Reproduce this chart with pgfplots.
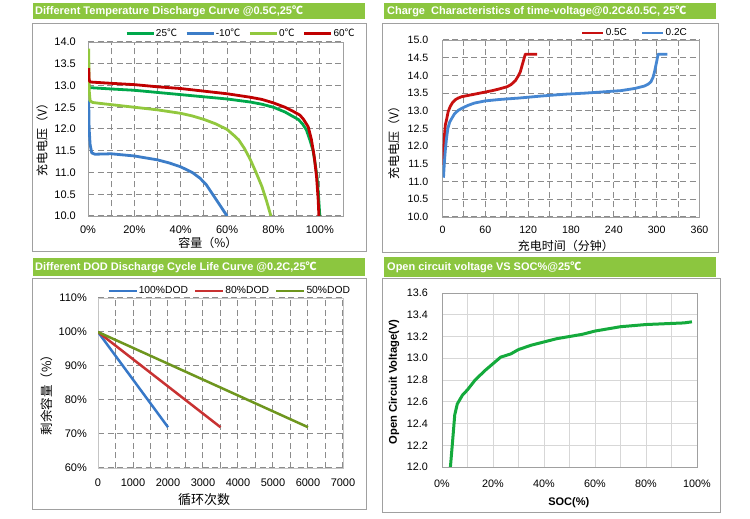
\documentclass[border=0pt]{standalone}
\usepackage{fontspec}
\setmainfont{Liberation Sans}
\newfontfamily\cjk{Noto Sans CJK SC}
\usepackage{pgfplots}
\pgfplotsset{compat=1.18}

\definecolor{titlegreen}{RGB}{140,198,63}
\definecolor{framegray}{RGB}{160,160,160}
\definecolor{gridgray}{RGB}{140,140,140}
\definecolor{boxgray}{RGB}{160,160,160}
\definecolor{lightgrid}{RGB}{215,215,215}
\definecolor{cGreen}{RGB}{0,168,75}
\definecolor{cBlue}{RGB}{60,125,200}
\definecolor{cLight}{RGB}{146,200,62}
\definecolor{cRed}{RGB}{192,0,0}
\definecolor{cRedB}{RGB}{200,16,16}
\definecolor{cBlueB}{RGB}{70,135,210}
\definecolor{dBlue}{RGB}{55,120,200}
\definecolor{dRed}{RGB}{200,50,50}
\definecolor{dOlive}{RGB}{110,150,30}
\definecolor{ocvGreen}{RGB}{20,170,60}

\pgfplotsset{
  panel/.style={
    scale only axis, anchor=south west,
    axis line style={draw=boxgray, line width=0.8pt},
    grid=major,
    major grid style={draw=gridgray, line width=1pt, dash pattern=on 6pt off 3.5pt},
    major tick length=0pt,
    tick style={draw=none},
    /pgf/number format/assume math mode=true,
    ticklabel style={font=\fontsize{11}{13}\selectfont, inner sep=0pt},
    legend style={draw=none, fill=none, font=\fontsize{10}{12}\selectfont,
      inner sep=0pt, nodes={inner sep=1pt}},
    legend cell align=left,
    every axis plot/.append style={line width=2.8pt, line join=round, no markers},
  },
}

\begin{document}
\begin{tikzpicture}
\fill[white] (0pt,0pt) rectangle (750pt,519pt);
\path[use as bounding box] (0pt,0pt) rectangle (750pt,519pt);

% frames
\draw[framegray, line width=0.8pt] (32pt,268pt) rectangle (366pt,496pt);
\draw[framegray, line width=0.8pt] (382pt,267pt) rectangle (718pt,496pt);
\draw[framegray, line width=0.8pt] (32pt,10pt) rectangle (366pt,241pt);
\draw[framegray, line width=0.8pt] (382pt,7pt) rectangle (720pt,241pt);

% title bars
\fill[titlegreen] (33pt,500pt) rectangle (365pt,516pt);
\fill[titlegreen] (384pt,500pt) rectangle (716pt,516pt);
\fill[titlegreen] (33pt,243pt) rectangle (365pt,261pt);
\fill[titlegreen] (384pt,242pt) rectangle (716pt,262pt);
\begin{scope}[every node/.style={anchor=west, text=white, inner sep=0pt, font=\bfseries\fontsize{11}{13}\selectfont}]
\node at (35pt,508pt) {Different Temperature Discharge Curve @0.5C,25{\cjk ℃}};
\node at (387pt,508pt) {Charge\ \ Characteristics of time-voltage@0.2C\&0.5C, 25{\cjk ℃}};
\node at (35pt,252pt) {Different DOD Discharge Cycle Life Curve @0.2C,25{\cjk ℃}};
\node at (387pt,252pt) {Open circuit voltage VS SOC\%@25{\cjk ℃}};
\end{scope}

% ---------------- Panel 1 ----------------
\begin{axis}[panel, at={(88pt,303pt)}, width=255pt, height=174pt,
  xmin=0, xmax=110, ymin=10, ymax=14,
  xtick={0,10,...,110}, xticklabels={0\%,,20\%,,40\%,,60\%,,80\%,,100\%,},
  ytick={10,10.5,...,14},
  yticklabel style={anchor=east, xshift=-12pt, /pgf/number format/.cd, fixed, fixed zerofill, precision=1},
  xticklabel style={anchor=north, yshift=-10pt},
  every axis x label/.style={at={(axis description cs:0.47,-0.155)}, anchor=center, font=\cjk\fontsize{12}{14}\selectfont},
  every axis y label/.style={at={(axis description cs:-0.18,0.454)}, anchor=center, rotate=90, font=\cjk\fontsize{12}{14}\selectfont},
  xlabel={容量（\%）}, ylabel={充电电压（V）},
  legend columns=4,
  legend style={at={(axis description cs:0.145,1.048)}, anchor=west, /tikz/every even column/.append style={column sep=7pt}},
  legend image code/.code={\draw[#1, line width=2.8pt] (0pt,0pt) -- (27pt,0pt);},
]
\addplot[cGreen] coordinates {(0.3,13.05) (0.6,12.97) (1,12.95) (10,12.92) (20,12.89) (30,12.84) (40,12.79) (50,12.74) (60,12.69) (70,12.62) (75,12.57) (80,12.5) (85,12.39) (88,12.3) (90.7,12.22) (92.5,12.12) (94.2,11.98) (95.7,11.75) (97.1,11.5) (98,11.2) (98.8,10.9) (99.4,10.5) (100,10.0)};
\addlegendentry{25{\cjk ℃}}
\addplot[cBlue] coordinates {(0.3,12.65) (0.5,12.0) (0.9,11.65) (1.6,11.45) (3,11.42) (10,11.43) (20,11.38) (30,11.29) (35,11.22) (40,11.13) (45,11.0) (48.3,10.87) (51,10.72) (54,10.48) (56,10.32) (58,10.16) (60,10.0)};
\addlegendentry{-10{\cjk ℃}}
\addplot[cLight] coordinates {(0.3,13.85) (0.5,12.9) (0.9,12.65) (2,12.61) (5,12.59) (10,12.56) (20,12.5) (30,12.44) (40,12.36) (45,12.3) (50,12.22) (55,12.12) (60,11.99) (63,11.85) (65,11.75) (67.5,11.55) (70,11.3) (72.5,11.0) (75,10.68) (77,10.35) (78.9,10.0)};
\addlegendentry{0{\cjk ℃}}
\addplot[cRed] coordinates {(0.3,13.4) (0.5,13.12) (1,13.08) (10,13.05) (20,13.02) (30,12.97) (40,12.93) (50,12.87) (60,12.81) (70,12.73) (75,12.68) (80,12.6) (85,12.5) (88,12.42) (91.4,12.32) (93,12.22) (95,12.05) (96.4,11.75) (97.6,11.36) (98.6,10.9) (99.3,10.37) (99.6,10.0)};
\addlegendentry{60{\cjk ℃}}
\end{axis}

% ---------------- Panel 2 ----------------
\begin{axis}[panel, at={(442.5pt,302pt)}, width=257pt, height=177pt,
  xmin=0, xmax=360, ymin=10, ymax=15,
  xtick={0,30,...,360}, xticklabels={0,,60,,120,,180,,240,,300,,360},
  ytick={10,10.5,...,15},
  yticklabel style={anchor=east, xshift=-14pt, /pgf/number format/.cd, fixed, fixed zerofill, precision=1},
  xticklabel style={anchor=north, yshift=-9pt},
  ticklabel style={font=\fontsize{10.6}{13}\selectfont},
  every axis x label/.style={at={(axis description cs:0.48,-0.164)}, anchor=center, font=\cjk\fontsize{12}{14}\selectfont},
  every axis y label/.style={at={(axis description cs:-0.189,0.435)}, anchor=center, rotate=90, font=\cjk\fontsize{12}{14}\selectfont},
  xlabel={充电时间（分钟）}, ylabel={充电电压（V）},
  legend columns=2,
  legend style={at={(axis description cs:0.538,1.04)}, anchor=west, /tikz/every even column/.append style={column sep=13pt}},
  legend image code/.code={\draw[#1, line width=2.8pt] (0pt,0pt) -- (21pt,0pt);},
]
\addplot[cRedB] coordinates {(1.4,11.47) (2,11.9) (2.8,12.32) (4,12.6) (6.1,12.79) (8,12.98) (10.8,13.12) (14,13.23) (17.8,13.31) (22,13.36) (27.2,13.40) (40,13.45) (50,13.49) (60,13.53) (70,13.57) (80,13.62) (90.5,13.68) (96,13.74) (102,13.85) (106,13.98) (109,14.1) (112.3,14.34) (116,14.6) (132.6,14.6)};
\addlegendentry{0.5C}
\addplot[cBlueB] coordinates {(1.4,11.11) (2.5,11.5) (3.75,11.84) (5.5,12.2) (7.5,12.5) (10,12.68) (13.1,12.79) (17,12.92) (22.5,13.02) (30,13.1) (36.6,13.16) (45,13.22) (60,13.28) (80,13.32) (107,13.36) (140,13.42) (172.5,13.47) (200,13.5) (222,13.53) (250,13.57) (269,13.63) (283,13.70) (288,13.75) (292,13.82) (295,13.95) (297,14.1) (300,14.39) (302,14.6) (315,14.6)};
\addlegendentry{0.2C}
\end{axis}

% ---------------- Panel 3 ----------------
\begin{axis}[panel, at={(98pt,51pt)}, width=245pt, height=170pt,
  axis line style={draw=lightgrid!80!gray, line width=0.8pt},
  xmin=0, xmax=7000, ymin=60, ymax=110,
  xtick={0,500,...,7000}, xticklabels={0,,1000,,2000,,3000,,4000,,5000,,6000,,7000},
  ytick={60,70,...,110}, yticklabels={60\%,70\%,80\%,90\%,100\%,110\%},
  yticklabel style={anchor=east, xshift=-11pt},
  xticklabel style={anchor=north, yshift=-11pt},
  every axis x label/.style={at={(axis description cs:0.433,-0.188)}, anchor=center, font=\cjk\fontsize{13}{15}\selectfont},
  every axis y label/.style={at={(axis description cs:-0.209,0.447)}, anchor=center, rotate=90, font=\cjk\fontsize{12.5}{14}\selectfont},
  xlabel={循环次数}, ylabel={剩余容量（\%）},
  legend columns=3,
  legend style={at={(axis description cs:0.037,1.041)}, anchor=west, font=\fontsize{10.3}{12}\selectfont, /tikz/every even column/.append style={column sep=5pt}},
  legend image code/.code={\draw[#1, line width=2.5pt] (0pt,0pt) -- (28pt,0pt);},
  every axis plot/.append style={line width=2.5pt},
]
\addplot[dBlue] coordinates {(0,100) (2000,72)};
\addlegendentry{100\%DOD}
\addplot[dRed] coordinates {(0,100) (3500,72)};
\addlegendentry{80\%DOD}
\addplot[dOlive] coordinates {(0,100) (6000,72)};
\addlegendentry{50\%DOD}
\end{axis}

% ---------------- Panel 4 ----------------
\begin{axis}[panel, at={(442pt,52pt)}, width=255pt, height=174pt,
  axis line style={draw=boxgray, line width=0.8pt},
  major grid style={draw=lightgrid, line width=0.8pt, solid},
  xmin=0, xmax=100, ymin=12, ymax=13.6,
  xtick={0,10,...,100}, xticklabels={0\%,,20\%,,40\%,,60\%,,80\%,,100\%},
  ytick={12,12.2,12.4,12.6,12.8,13,13.2,13.4,13.6},
  yticklabel style={anchor=east, xshift=-14pt, /pgf/number format/.cd, fixed, fixed zerofill, precision=1},
  xticklabel style={anchor=north, yshift=-13pt},
  ticklabel style={font=\fontsize{10.8}{13}\selectfont},
  every axis x label/.style={at={(axis description cs:0.497,-0.207)}, anchor=center, font=\bfseries\fontsize{11}{13}\selectfont},
  every axis y label/.style={at={(axis description cs:-0.188,0.49)}, anchor=center, rotate=90, font=\bfseries\fontsize{11.2}{13}\selectfont},
  xlabel={SOC(\%)}, ylabel={Open Circuit Voltage(V)},
]
\addplot[ocvGreen, line width=3pt] coordinates {(3.3,12.0) (4.2,12.25) (5,12.48) (6,12.58) (8,12.66) (10,12.71) (13,12.8) (17,12.89) (20,12.95) (23,13.01) (27,13.04) (30,13.08) (35,13.12) (40,13.15) (45,13.18) (50,13.2) (55,13.22) (60,13.25) (65,13.27) (70,13.29) (75,13.3) (80,13.31) (85,13.315) (90,13.32) (95,13.325) (98,13.335)};
\end{axis}

\end{tikzpicture}
\end{document}
